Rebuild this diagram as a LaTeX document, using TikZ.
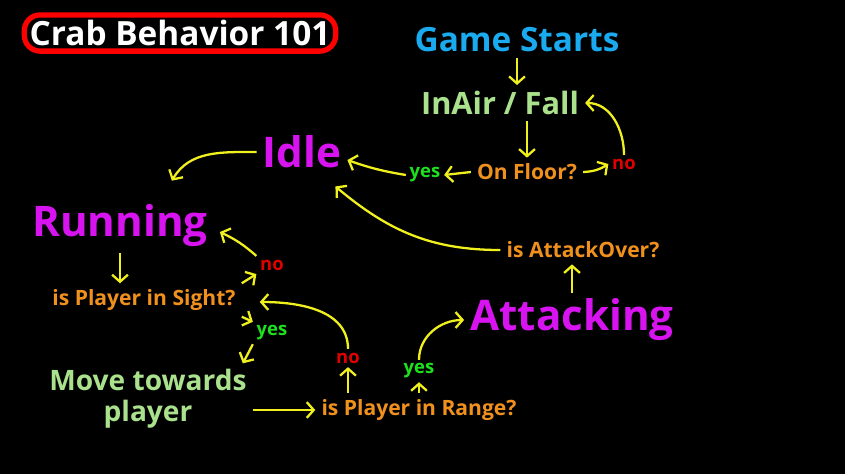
\documentclass[tikz,border=0pt]{standalone}
\usepackage{fontspec}
\setmainfont{Open Sans}
\usetikzlibrary{arrows.meta, positioning, calc}
\definecolor{skyblue}{RGB}{25,170,240}
\definecolor{softgreen}{RGB}{170,225,140}
\definecolor{statepink}{RGB}{215,20,240}
\definecolor{askorange}{RGB}{240,145,30}
\definecolor{yesgreen}{RGB}{30,225,30}
\definecolor{nored}{RGB}{225,0,0}
\definecolor{pen}{RGB}{240,240,30}

\begin{document}
\begin{tikzpicture}[x=0.02cm, y=-0.02cm, font=\bfseries,
  state/.style={text=statepink, font=\fontsize{24}{28}\selectfont\bfseries},
  question/.style={text=askorange, font=\fontsize{12}{14}\selectfont\bfseries},
  yeslbl/.style={text=yesgreen, font=\fontsize{10.5}{12}\selectfont\bfseries, inner sep=2pt},
  nolbl/.style={text=nored, font=\fontsize{10.5}{12}\selectfont\bfseries, inner sep=2pt},
  arr/.style={draw=pen, line width=1.3pt, -{Straight Barb[length=4pt, width=9pt]}}]
  \fill[black] (0,0) rectangle (845,474);

  % title
  \node[draw=red, line width=3pt, rounded corners=9pt, fill=black, text=white,
    font=\fontsize{19}{22}\selectfont\bfseries, inner xsep=3pt, inner ysep=3pt] (title) at (180,33) {Crab Behavior 101};

  % falling part
  \node[text=skyblue, font=\fontsize{19}{22}\selectfont\bfseries] (start) at (517,40) {Game Starts};
  \node[text=softgreen, font=\fontsize{17.5}{20}\selectfont\bfseries] (fall) at (500,103) {InAir / Fall};
  \node[question] (floor) at (527,172) {On Floor?};
  \node[yeslbl] (flooryes) at (425,175) {yes};
  \node[nolbl] (floorno) at (624,164) {no};

  % states
  \node[state] (idle) at (302,152) {Idle};
  \node[state] (running) at (120,226) {Running};
  \node[state] (attack) at (572,320) {Attacking};

  % checks
  \node[question] (sight) at (144,300) {is Player in Sight?};
  \node[nolbl] (sightno) at (272,265) {no};
  \node[yeslbl] (sightyes) at (272,333) {yes};
  \node[text=softgreen, align=center, font=\fontsize{16}{17.5}\selectfont\bfseries] (move) at (148,399) {Move towards\\player};
  \node[question] (range) at (419,410) {is Player in Range?};
  \node[nolbl] (rangeno) at (348,358) {no};
  \node[yeslbl] (rangeyes) at (419,371) {yes};
  \node[question] (over) at (583,250) {is AttackOver?};

  \draw[arr] (start.south) -- (start.south |- fall.north);
  \draw[arr] (fall.south -| floor) -- (floor.north);
  \draw[arr] (floor.west) -- (flooryes.east);
  \draw[arr] (flooryes.west) to[bend left=5] ($(idle.east)+(0,8)$);
  \draw[arr] (floor.east) to[bend right=15] (floorno.west);
  \draw[arr] (floorno.north) to[out=90, in=0] (fall.east);

  \draw[arr] (idle.west) to[out=180, in=60] ($(running.north east)+(-42,-18)$);
  \draw[arr] (over.west) to[out=180, in=-40] ($(idle.south east)+(-12,12)$);

  \draw[arr] (running.south) -- (running.south |- sight.north);
  \draw[arr] (sight.north east) -- (sightno.south west);
  \draw[arr] (sightno.north west) to[bend right=8] ($(running.east)+(6,6)$);
  \draw[arr] (sight.south east) -- (sightyes.north west);
  \draw[arr] (sightyes.south west) -- ($(move.north east)+(-10,0)$);
  \draw[arr] (move.east |- range.west) -- (range.west);

  \draw[arr] (range.north -| rangeno) -- (rangeno.south);
  \draw[arr] (rangeno.north) to[out=90, in=0] ($(sight.east)+(18,2)$);
  \draw[arr] (range.north -| rangeyes) -- (rangeyes.south);
  \draw[arr] (rangeyes.north) to[out=90, in=180] (attack.west);
  \draw[arr] (attack.north) -- (attack.north |- over.south);
\end{tikzpicture}
\end{document}
